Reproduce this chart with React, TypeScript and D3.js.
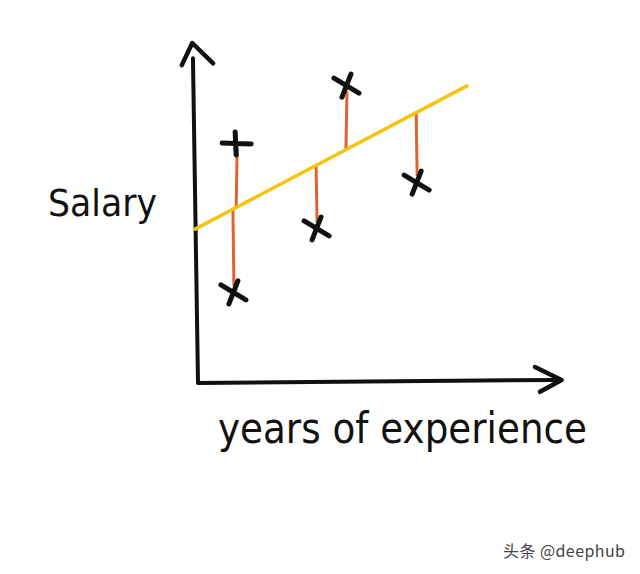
import React, { useRef, useEffect } from 'react';
import * as d3 from 'd3';

const years = [1.06, 0.97, 3.28, 4.11, 6.06];
const salary = [7.06, 2.68, 4.56, 8.76, 5.91];
const markerKind = ['plus', 'x', 'x', 'x', 'x'];

// fitted line: salary = intercept + slope * years
const intercept = 4.57;
const slope = 0.558;
const fitRange = [-0.08, 7.47];

const xLabel = 'years of experience';
const yLabel = 'Salary';
const watermark = '头条 @deephub';

function App() {
  const ref = useRef<SVGSVGElement>(null);
  const width = 640;
  const height = 574;

  useEffect(() => {
    const svg = d3.select(ref.current);
    svg.selectAll('*').remove();

    const x = d3.scaleLinear().domain([0, 10]).range([198, 558]);
    const y = d3.scaleLinear().domain([0, 10]).range([383, 43]);

    svg.append('rect').attr('width', width).attr('height', height).attr('fill', '#fff');

    const line = d3.line<[number, number]>().x((d) => x(d[0])).y((d) => y(d[1]));

    // axes, a bit wobbly like the hand drawing
    const axisColor = '#111';
    svg.append('path')
      .datum([[-0.14, 9.55], [0, 0], [10.0, 0.09]] as [number, number][])
      .attr('d', line)
      .attr('fill', 'none')
      .attr('stroke', axisColor)
      .attr('stroke-width', 4)
      .attr('stroke-linecap', 'round')
      .attr('stroke-linejoin', 'round');

    // arrow heads
    svg.append('path')
      .attr('d', `M${x(-0.45)},${y(9.35)} L${x(-0.16)},${y(10)} L${x(0.42)},${y(9.4)}`)
      .attr('fill', 'none').attr('stroke', axisColor).attr('stroke-width', 4.5)
      .attr('stroke-linecap', 'round').attr('stroke-linejoin', 'round');
    svg.append('path')
      .attr('d', `M${x(9.36)},${y(0.47)} L${x(10.1)},${y(0.09)} L${x(9.5)},${y(-0.26)}`)
      .attr('fill', 'none').attr('stroke', axisColor).attr('stroke-width', 4.5)
      .attr('stroke-linecap', 'round').attr('stroke-linejoin', 'round');

    // residuals
    const pts = years.map((v, i) => ({ x: v, y: salary[i], kind: markerKind[i] }));
    svg.append('g').selectAll('line').data(pts).join('line')
      .attr('x1', (d) => x(d.x))
      .attr('x2', (d) => x(d.x) + 1)
      .attr('y1', (d) => y(intercept + slope * d.x))
      .attr('y2', (d) => y(d.y) + (d.y > intercept + slope * d.x ? 6 : -6))
      .attr('stroke', '#e0622c')
      .attr('stroke-width', 3);

    // regression line
    svg.append('path')
      .datum(fitRange.map((v) => [v, intercept + slope * v]) as [number, number][])
      .attr('d', line)
      .attr('fill', 'none')
      .attr('stroke', '#f5c40f')
      .attr('stroke-width', 3.5)
      .attr('stroke-linecap', 'round');

    // markers
    const mk = svg.append('g')
      .attr('fill', 'none').attr('stroke', '#111').attr('stroke-width', 5)
      .attr('stroke-linecap', 'round');
    pts.forEach((d) => {
      const cx = x(d.x);
      const cy = y(d.y);
      const p = d3.path();
      if (d.kind === 'plus') {
        p.moveTo(cx - 14, cy); p.lineTo(cx + 15, cy + 1);
        p.moveTo(cx - 1, cy - 11); p.lineTo(cx, cy + 12);
      } else {
        p.moveTo(cx - 12, cy - 7); p.lineTo(cx + 13, cy + 8);
        p.moveTo(cx + 5, cy - 11); p.lineTo(cx - 4, cy + 12);
      }
      mk.append('path').attr('d', p.toString());
    });

    // labels
    svg.append('text')
      .attr('x', 48).attr('y', 216)
      .attr('font-family', 'DejaVu Sans')
      .attr('font-size', 38)
      .attr('textLength', 109)
      .attr('lengthAdjust', 'spacingAndGlyphs')
      .attr('fill', '#111')
      .text(yLabel);

    svg.append('text')
      .attr('x', 218).attr('y', 443)
      .attr('font-family', 'DejaVu Sans')
      .attr('font-size', 42)
      .attr('textLength', 369)
      .attr('lengthAdjust', 'spacingAndGlyphs')
      .attr('fill', '#111')
      .text(xLabel);

    svg.append('text')
      .attr('x', 503).attr('y', 557)
      .attr('font-family', 'Noto Sans CJK SC')
      .attr('font-size', 16)
      .attr('textLength', 122)
      .attr('fill', '#444')
      .text(watermark);
  }, []);

  return (
    <svg ref={ref} width={width} height={height}
      style={{ position: 'absolute', left: 0, top: 0, display: 'block' }} />
  );
}

export default App;
